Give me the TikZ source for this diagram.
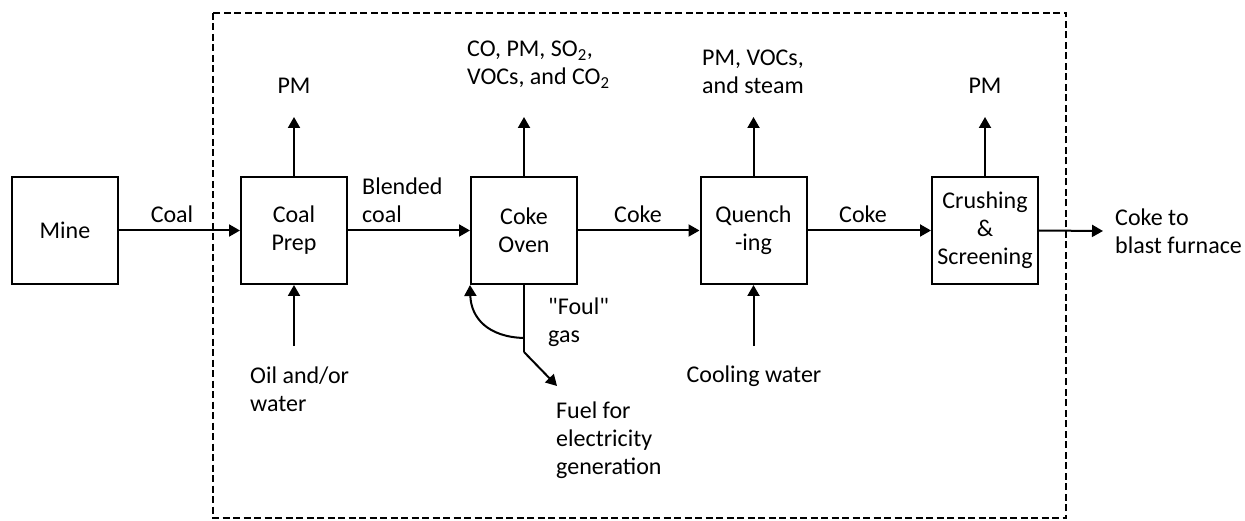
\documentclass[tikz,border=0pt]{standalone}
\usepackage{fontspec}
\setmainfont{Carlito}
\newfontfamily\qfont{Carlito}[Ligatures=TeXOff]
\usetikzlibrary{arrows.meta}
\begin{document}
\begin{tikzpicture}[x=1pt,y=-1pt,
  font=\fontsize{24}{28}\selectfont,
  proc/.style={draw,line width=2pt,minimum width=106pt,minimum height=107pt,align=center,inner sep=0pt},
  flow/.style={line width=2pt,-{Triangle[length=11pt,width=12pt]}},
  lbl/.style={inner sep=0pt,align=center},
  lbll/.style={inner sep=0pt,align=left,anchor=west}]
\useasboundingbox (0,0) rectangle (1245,521);
\draw[line width=1.6pt,dash pattern=on 7pt off 3.5pt] (213,13) rectangle (1066,518);

\node[proc] (mine) at (65,230.5) {Mine};
\node[proc] (prep) at (294,230.5) {Coal\\Prep};
\node[proc] (oven) at (524,230.5) {Coke\\Oven};
\node[proc] (quench) at (753.5,230.5) {Quench\\-ing};
\node[proc] (crush) at (985,230.5) {Crushing\\\&\\Screening};

% horizontal flows
\coordinate (outend) at (1103,231);
\draw[flow] (mine.east) -- (prep.west);
\draw[flow] (prep.east) -- (oven.west);
\draw[flow] (oven.east) -- (quench.west);
\draw[flow] (quench.east) -- (crush.west);
\draw[flow] (crush.east) -- (outend);

\node[lbl] (lcoal) at (172,214) {Coal};
\node[lbll] (lblend) at (362,200) {Blended\\coal};
\node[lbl] (lcoke1) at (638,214) {Coke};
\node[lbl] (lcoke2) at (863,214) {Coke};
\node[lbll] (lout) at (1115,231) {Coke to\\blast furnace};

% emissions
\coordinate (e1) at (294,117);
\coordinate (e2) at (524,117);
\coordinate (e3) at (753.5,117);
\coordinate (e4) at (985,117);
\draw[flow] (prep.north) -- (e1);
\draw[flow] (oven.north) -- (e2);
\draw[flow] (quench.north) -- (e3);
\draw[flow] (crush.north) -- (e4);
\node[lbl] (pm1) at (294,86) {PM};
\node[lbll] (em2) at (467,65) {CO, PM, SO\textsubscript{2},\\VOCs, and CO\textsubscript{2}};
\node[lbl] (em3) at (753,72) {PM, VOCs,\\and steam};
\node[lbl] (pm4) at (985,86) {PM};

% inputs from below
\coordinate (i1) at (294,346);
\coordinate (i3) at (753.5,346);
\draw[flow] (i1) -- (prep.south);
\draw[flow] (i3) -- (quench.south);
\node[lbll] (oil) at (250,389) {Oil and/or\\water};
\node[lbl] (cool) at (754,376) {Cooling water};

% foul gas
\coordinate (j1) at (524,338);
\coordinate (j2) at (524,352);
\coordinate (fuel) at (557,386);
\draw[line width=2pt] (oven.south) -- (j2);
\draw[flow] (j2) -- (fuel);
\draw[flow] (j1) .. controls (488,337) and (471,318) .. (oven.south west);
\node[lbll] (foul) at (548,322) {{\qfont"}Foul{\qfont"}\\gas};
\node[lbll] (lfuel) at (556,440) {Fuel for\\electricity\\generation};
\end{tikzpicture}
\end{document}
